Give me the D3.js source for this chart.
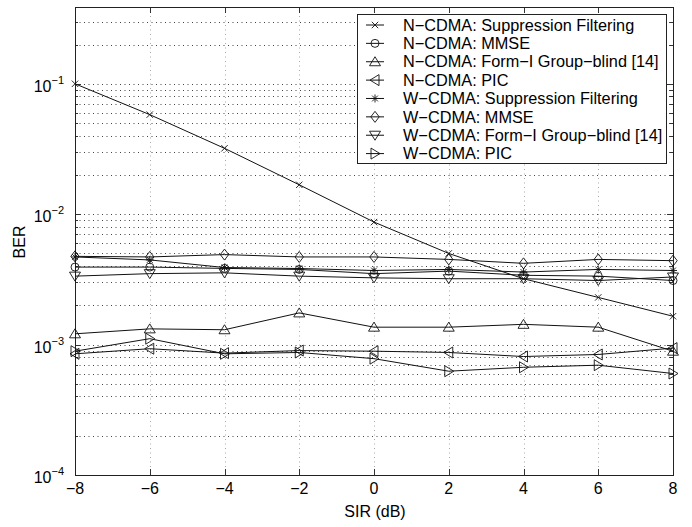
<!DOCTYPE html>
<html>
<head>
<meta charset="utf-8">
<script src="https://cdn.jsdelivr.net/npm/d3@7"></script>
<style>
  body { margin: 0; background: #fff; }
  svg text { font-family: "Liberation Sans", Arial, sans-serif; fill: #000; }
</style>
</head>
<body>
<svg id="chart" width="692" height="527"></svg>
<script>
// SIR values (dB)
const sir = [-8, -6, -4, -2, 0, 2, 4, 6, 8];

// BER
const nSupp = [0.1, 0.058, 0.032, 0.0168, 0.0087, 0.0050, 0.0032, 0.0023, 0.00165];
const nMmse = [3.93e-3, 3.93e-3, 3.84e-3, 3.77e-3, 3.5e-3, 3.66e-3, 3.4e-3, 3.35e-3, 3.1e-3];
const nForm = [1.21e-3, 1.32e-3, 1.30e-3, 1.75e-3, 1.36e-3, 1.36e-3, 1.43e-3, 1.36e-3, 8.9e-4];
const nPic = [8.5e-4, 9.3e-4, 8.6e-4, 9.0e-4, 8.9e-4, 8.7e-4, 8.1e-4, 8.4e-4, 9.4e-4];
const wSupp = [4.7e-3, 4.46e-3, 3.9e-3, 3.83e-3, 3.7e-3, 3.77e-3, 3.6e-3, 3.77e-3, 3.7e-3];
const wMmse = [4.75e-3, 4.7e-3, 4.9e-3, 4.7e-3, 4.7e-3, 4.5e-3, 4.2e-3, 4.5e-3, 4.4e-3];
const wForm = [3.35e-3, 3.5e-3, 3.55e-3, 3.35e-3, 3.25e-3, 3.2e-3, 3.2e-3, 3.1e-3, 3.3e-3];
const wPic = [8.9e-4, 1.11e-3, 8.5e-4, 8.7e-4, 7.8e-4, 6.25e-4, 6.7e-4, 6.95e-4, 6.0e-4];

const seriesNames = [
  "N\u2212CDMA: Suppression Filtering",
  "N\u2212CDMA: MMSE",
  "N\u2212CDMA: Form\u2212I Group\u2212blind [14]",
  "N\u2212CDMA: PIC",
  "W\u2212CDMA: Suppression Filtering",
  "W\u2212CDMA: MMSE",
  "W\u2212CDMA: Form\u2212I Group\u2212blind [14]",
  "W\u2212CDMA: PIC"
];
const seriesMarkers = ["x", "o", "tu", "tl", "star", "dia", "td", "tr"];
const seriesValues = [nSupp, nMmse, nForm, nPic, wSupp, wMmse, wForm, wPic];

const xTicks = [-8, -6, -4, -2, 0, 2, 4, 6, 8];
const yTicks = [1e-4, 1e-3, 1e-2, 1e-1];
const yTickExp = ["\u22124", "\u22123", "\u22122", "\u22121"];

const svg = d3.select("#chart");
const plotLeft = 75, plotRight = 673, plotTop = 7, plotBottom = 475;

const x = d3.scaleLinear().domain([-8, 8]).range([plotLeft, plotRight]);
const y = d3.scaleLog().domain([1e-4, 0.388]).range([plotBottom, plotTop]);

// marker shapes
function markerPath(t) {
  switch (t) {
    case "x": return "M-3.2,-3.2L3.2,3.2M-3.2,3.2L3.2,-3.2";
    case "o": return "M4,0A4,4 0 1,1 -4,0A4,4 0 1,1 4,0Z";
    case "tu": return "M0,-5L5.5,4L-5.5,4Z";
    case "td": return "M0,5L5.5,-4L-5.5,-4Z";
    case "tl": return "M-5,0L4,-5.5L4,5.5Z";
    case "tr": return "M5,0L-4,-5.5L-4,5.5Z";
    case "star": return "M-4,0L4,0M0,-4L0,4M-2.9,-2.9L2.9,2.9M-2.9,2.9L2.9,-2.9";
    case "dia": return "M0,-5.5L4.2,0L0,5.5L-4.2,0Z";
  }
}

// grid
const grid = svg.append("g");
const minorVals = [];
for (let e = -4; e <= -1; e++) {
  for (let k = 1; k <= 9; k++) {
    const v = k * Math.pow(10, e);
    if (v <= y.domain()[1]) minorVals.push(v);
  }
}
grid.selectAll(".ygrid").data(minorVals).join("line")
  .attr("x1", plotLeft).attr("x2", plotRight)
  .attr("y1", d => Math.round(y(d)) + 0.5).attr("y2", d => Math.round(y(d)) + 0.5)
  .attr("stroke", "#444").attr("stroke-width", 1)
  .attr("stroke-dasharray", "1,3.5");
grid.selectAll(".xgrid").data(xTicks.slice(1, -1)).join("line")
  .attr("x1", d => Math.round(x(d)) + 0.5).attr("x2", d => Math.round(x(d)) + 0.5)
  .attr("y1", plotTop).attr("y2", plotBottom)
  .attr("stroke", "#aaa").attr("stroke-width", 1)
  .attr("stroke-dasharray", "1,3.5");

// ticks on all four sides
const ticks = svg.append("g").attr("stroke", "#333").attr("stroke-width", 1);
xTicks.forEach(t => {
  const xx = Math.round(x(t)) + 0.5;
  ticks.append("line").attr("x1", xx).attr("x2", xx).attr("y1", plotBottom).attr("y2", plotBottom - 6);
  ticks.append("line").attr("x1", xx).attr("x2", xx).attr("y1", plotTop).attr("y2", plotTop + 6);
});
minorVals.forEach(v => {
  const yy = Math.round(y(v)) + 0.5;
  const len = yTicks.includes(v) ? 6 : 3;
  ticks.append("line").attr("x1", plotLeft).attr("x2", plotLeft + len).attr("y1", yy).attr("y2", yy);
  ticks.append("line").attr("x1", plotRight).attr("x2", plotRight - len).attr("y1", yy).attr("y2", yy);
});

// frame
svg.append("rect")
  .attr("x", plotLeft + 0.5).attr("y", plotTop + 0.5)
  .attr("width", plotRight - plotLeft).attr("height", plotBottom - plotTop)
  .attr("fill", "none").attr("stroke", "#222").attr("stroke-width", 1);

// tick labels
svg.append("g").selectAll("text").data(xTicks).join("text")
  .attr("x", d => x(d)).attr("y", plotBottom + 19)
  .attr("text-anchor", "middle").attr("font-size", 16)
  .text(d => d < 0 ? "\u2212" + Math.abs(d) : d);

const yl = svg.append("g").selectAll("text").data(yTicks).join("text")
  .attr("x", 64).attr("y", d => y(d) + 8)
  .attr("text-anchor", "end").attr("font-size", 16);
yl.append("tspan").text("10");
yl.append("tspan").attr("dy", -8).attr("font-size", 11).text((d, i) => yTickExp[i]);

// axis titles
svg.append("text").attr("x", x(0) + 1).attr("y", 517)
  .attr("text-anchor", "middle").attr("font-size", 16).text("SIR (dB)");
svg.append("text").attr("transform", "translate(25,242) rotate(-90)")
  .attr("text-anchor", "middle").attr("font-size", 16).text("BER");

// series
const line = d3.line().x((d, i) => x(sir[i])).y(d => y(d));
const plot = svg.append("g");
seriesValues.forEach((vals, s) => {
  plot.append("path").attr("d", line(vals))
    .attr("fill", "none").attr("stroke", "#111").attr("stroke-width", 1);
  plot.selectAll(null).data(vals).join("path")
    .attr("transform", (d, i) => `translate(${x(sir[i])},${y(d)})`)
    .attr("d", markerPath(seriesMarkers[s]))
    .attr("fill", "none").attr("stroke", "#111").attr("stroke-width", 0.9);
});

// legend
const lg = svg.append("g");
lg.append("rect").attr("x", 357.5).attr("y", 14.5).attr("width", 309).attr("height", 149)
  .attr("fill", "#fff").attr("stroke", "#222").attr("stroke-width", 1);
seriesNames.forEach((name, i) => {
  const by = 30.7 + i * 18.37;
  const cy = by - 5.7;
  lg.append("line").attr("x1", 366).attr("x2", 384).attr("y1", cy).attr("y2", cy)
    .attr("stroke", "#111").attr("stroke-width", 1);
  lg.append("path").attr("transform", `translate(375,${cy})`)
    .attr("d", markerPath(seriesMarkers[i]))
    .attr("fill", "none").attr("stroke", "#111").attr("stroke-width", 0.9);
  lg.append("text").attr("x", 403).attr("y", by).attr("font-size", 16.3).text(name);
});
</script>
</body>
</html>
